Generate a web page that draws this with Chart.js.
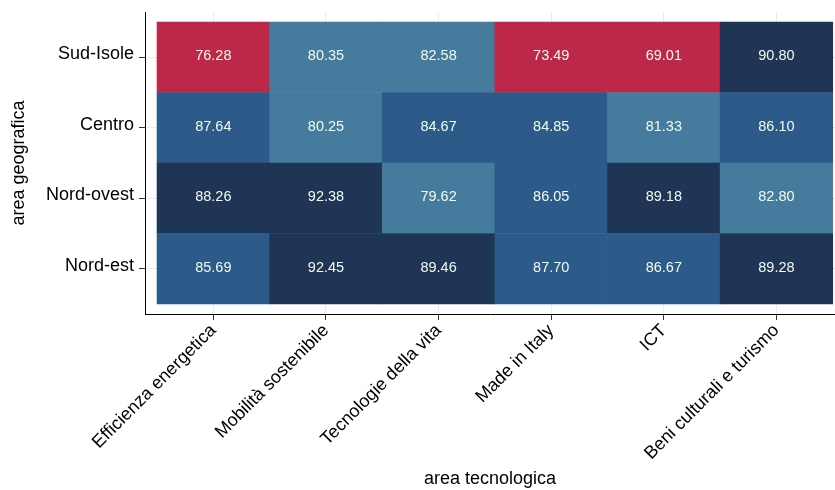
<!DOCTYPE html>
<html>
<head>
<meta charset="utf-8">
<script src="https://cdn.jsdelivr.net/npm/chart.js@4.4.1/dist/chart.umd.min.js"></script>
<style>
    html, body { margin: 0; padding: 0; background: #ffffff; }
    #wrap { width: 835px; height: 490px; }
</style>
</head>
<body>
<div id="wrap"><canvas id="heatmap" width="835" height="490"></canvas></div>
<script>
"use strict";

// columns (left to right) and rows (bottom to top)
const areeTecnologiche = ["Efficienza energetica", "Mobilità sostenibile", "Tecnologie della vita",
    "Made in Italy", "ICT", "Beni culturali e turismo"];
const areeGeografiche = ["Nord-est", "Nord-ovest", "Centro", "Sud-Isole"];

const nordEst = [85.69, 92.45, 89.46, 87.70, 86.67, 89.28];
const nordOvest = [88.26, 92.38, 79.62, 86.05, 89.18, 82.80];
const centro = [87.64, 80.25, 84.67, 84.85, 81.33, 86.10];
const sudIsole = [76.28, 80.35, 82.58, 73.49, 69.01, 90.80];

const rowValues = [nordEst, nordOvest, centro, sudIsole];

const FONT = "'Liberation Sans', Arial, sans-serif";

function cellColor(value)
{
    if (value < 78)
        return "#bd2748";
    if (value < 84)
        return "#457b9d";
    if (value < 88)
        return "#2c5b89";
    return "#1e3556";
}

function buildDatasets()
{
    return rowValues.map((values, r) => ({
        label: areeGeografiche[r],
        data: values.map((v, c) => ({x: c, y: [r - 0.5, r + 0.5], v: v})),
        backgroundColor: values.map(cellColor),
        borderWidth: 0,
        barPercentage: 1,
        categoryPercentage: 1,
        grouped: false
    }));
}

const cellLabels = {
    id: "cellLabels",
    afterDatasetsDraw(chart)
    {
        const ctx = chart.ctx;
        const xs = chart.scales.x;
        const ys = chart.scales.y;
        ctx.save();
        ctx.font = "14.5px " + FONT;
        ctx.fillStyle = "#f1faee";
        ctx.textAlign = "center";
        ctx.textBaseline = "middle";
        rowValues.forEach((values, r) => {
            values.forEach((v, c) => {
                ctx.fillText(v.toFixed(2), xs.getPixelForValue(c), ys.getPixelForValue(r) - 1);
            });
        });
        ctx.restore();
    }
};

function buildChart()
{
    new Chart("heatmap", {
        type: "bar",
        data: { datasets: buildDatasets() },
        plugins: [cellLabels],
        options: {
            responsive: false,
            animation: false,
            layout: { padding: { top: 12, right: 0, left: 0, bottom: 0 } },
            plugins: {
                legend: { display: false },
                tooltip: { enabled: false }
            },
            scales: {
                x: {
                    type: "linear",
                    offset: false,
                    min: -0.607,
                    max: 5.52,
                    afterBuildTicks: s => { s.ticks = areeTecnologiche.map((_, i) => ({value: i})); },
                    afterFit: s => {
                        s.height = 176;
                        s.paddingLeft = 0;
                        s.paddingRight = 0;
                    },
                    ticks: {
                        autoSkip: false,
                        minRotation: 45,
                        maxRotation: 45,
                        padding: 0,
                        color: "#000000",
                        font: { family: FONT, size: 18 },
                        callback: (v, i) => areeTecnologiche[i]
                    },
                    grid: { offset: false, color: "#ebebeb", tickColor: "#333333", tickLength: 6 },
                    border: { color: "#000000", width: 1 },
                    title: {
                        display: true,
                        text: "area tecnologica",
                        color: "#000000",
                        font: { family: FONT, size: 18 },
                        padding: { top: 0, bottom: 0 }
                    }
                },
                y: {
                    type: "linear",
                    min: -0.642,
                    max: 3.642,
                    afterBuildTicks: s => { s.ticks = areeGeografiche.map((_, i) => ({value: i})); },
                    afterFit: s => {
                        s.width = 145;
                        s.paddingTop = 0;
                        s.paddingBottom = 0;
                    },
                    ticks: {
                        padding: 5,
                        labelOffset: -3,
                        color: "#000000",
                        font: { family: FONT, size: 18 },
                        callback: (v, i) => areeGeografiche[i]
                    },
                    grid: { color: "#ebebeb", tickColor: "#333333", tickLength: 6 },
                    border: { color: "#000000", width: 1 },
                    title: {
                        display: true,
                        text: "area geografica",
                        color: "#000000",
                        font: { family: FONT, size: 18 },
                        padding: { top: 8, bottom: 0 }
                    }
                }
            }
        }
    });
}

buildChart();
</script>
</body>
</html>
